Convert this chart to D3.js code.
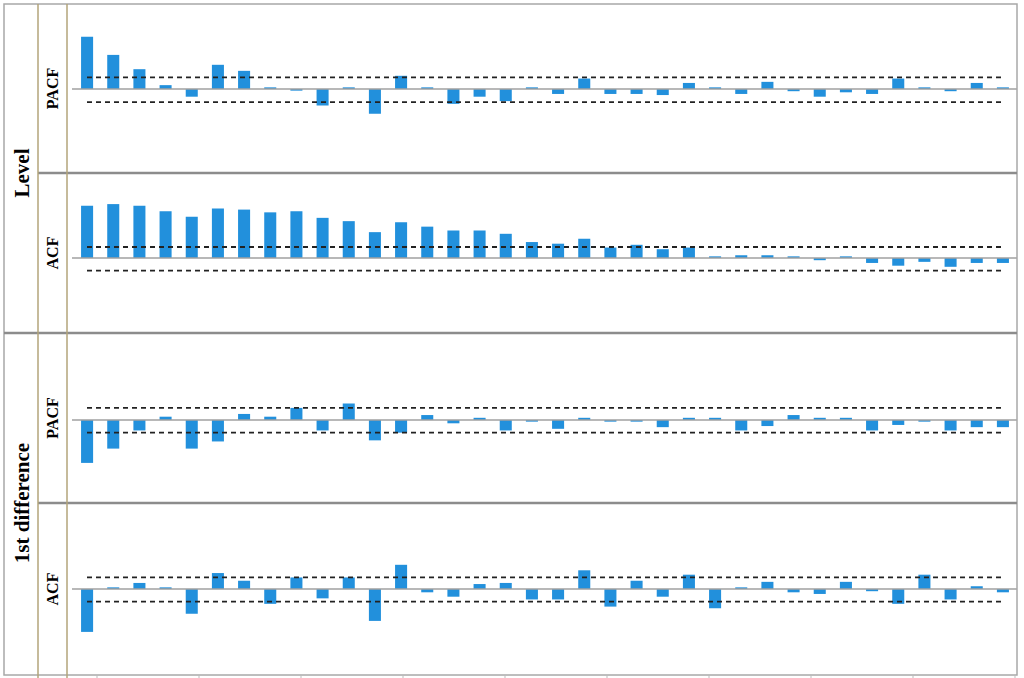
<!DOCTYPE html>
<html><head><meta charset="utf-8">
<script src="https://cdn.jsdelivr.net/npm/d3@7"></script>
<style>body{margin:0;background:#fff}</style></head>
<body><svg id="c" width="1024" height="678"></svg>
<script>
const lags = d3.range(1, 37);
const levelPACF = [0.95,0.62,0.36,0.07,-0.14,0.44,0.33,0.03,-0.03,-0.30,0.03,-0.45,0.24,0.03,-0.27,-0.14,-0.22,0.03,-0.09,0.19,-0.09,-0.09,-0.11,0.11,0.03,-0.09,0.13,-0.04,-0.14,-0.06,-0.09,0.19,0.03,-0.04,0.11,0.03];
const levelACF = [0.95,0.98,0.95,0.85,0.75,0.90,0.88,0.83,0.85,0.73,0.67,0.47,0.65,0.57,0.50,0.50,0.44,0.29,0.26,0.35,0.19,0.24,0.16,0.19,0.03,0.05,0.05,0.03,-0.04,0.03,-0.09,-0.14,-0.07,-0.16,-0.09,-0.09];
const diffPACF = [-0.78,-0.52,-0.19,0.06,-0.52,-0.39,0.11,0.06,0.22,-0.19,0.30,-0.37,-0.23,0.09,-0.06,0.04,-0.19,-0.03,-0.16,0.04,-0.03,-0.03,-0.13,0.04,0.04,-0.19,-0.11,0.09,0.04,0.04,-0.19,-0.09,-0.03,-0.19,-0.13,-0.13];
const diffACF = [-0.78,0.03,0.11,0.03,-0.45,0.29,0.15,-0.27,0.21,-0.17,0.21,-0.58,0.44,-0.06,-0.14,0.09,0.11,-0.19,-0.19,0.34,-0.32,0.15,-0.14,0.26,-0.35,0.03,0.13,-0.06,-0.09,0.13,-0.04,-0.27,0.26,-0.19,0.05,-0.06];
const ciUpper = [0.21,0.20,0.22,0.21];
const ciLower = [-0.24,-0.23,-0.23,-0.23];
const panelLabels = ["PACF","ACF","PACF","ACF"];
const groupLabels = ["Level","1st difference"];

const series = [levelPACF, levelACF, diffPACF, diffACF];
const panels = [[4,173],[173,333],[333,503],[503,675]];
const zeroY = [89,258,420,589];
const svg = d3.select("#c");
const x = d3.scaleBand().domain(lags).range([74,1016]).paddingInner(0.54).paddingOuter(0.27);
const font = "'Liberation Serif','Times New Roman',serif";

series.forEach((vals,i)=>{
  const z = zeroY[i];
  const y = d3.scaleLinear().domain([-1,1]).range([z+55, z-55]);
  const g = svg.append("g");
  g.selectAll("rect").data(vals).join("rect")
    .attr("x",(d,j)=>x(lags[j]))
    .attr("width",x.bandwidth())
    .attr("y",d=>Math.min(y(d),y(0)))
    .attr("height",d=>Math.max(1.5,Math.abs(y(d)-y(0))))
    .attr("fill","#2290dc");
  g.append("line").attr("x1",72).attr("x2",1017).attr("y1",y(0)).attr("y2",y(0))
    .attr("stroke","#a0a0a0").attr("stroke-width",1.5);
  [ciUpper[i],ciLower[i]].forEach(c=>{
    g.append("line").attr("x1",87).attr("x2",1003).attr("y1",y(c)).attr("y2",y(c))
      .attr("stroke","#222").attr("stroke-width",1.8).attr("stroke-dasharray","5,4");
  });
  const [t,b]=panels[i];
  svg.append("text").attr("transform",`translate(58,${(t+b)/2}) rotate(-90)`)
    .attr("text-anchor","middle").attr("font-family",font).attr("font-weight","bold")
    .attr("font-size",16).text(panelLabels[i]);
});

// frame
svg.append("rect").attr("x",4).attr("y",4).attr("width",1013).attr("height",671)
  .attr("fill","none").attr("stroke","#a8a8a8").attr("stroke-width",1.5);
[[38,173],[4,333],[38,503]].forEach(([x1,yy])=>{
  svg.append("line").attr("x1",x1).attr("x2",1017).attr("y1",yy).attr("y2",yy)
    .attr("stroke","#8c8c8c").attr("stroke-width",2.5);
});
[38,67].forEach(xx=>svg.append("line").attr("x1",xx).attr("x2",xx).attr("y1",4).attr("y2",678)
  .attr("stroke","#b3a57a").attr("stroke-width",1.5));
d3.range(97,1017,102).forEach(xx=>svg.append("line").attr("x1",xx).attr("x2",xx)
  .attr("y1",675).attr("y2",678).attr("stroke","#bbb"));

[[173,groupLabels[0]],[503,groupLabels[1]]].forEach(([cy,t])=>{
  svg.append("text").attr("transform",`translate(29,${cy}) rotate(-90)`)
    .attr("text-anchor","middle").attr("font-family",font).attr("font-weight","bold")
    .attr("font-size",21).text(t);
});
</script></body></html>
